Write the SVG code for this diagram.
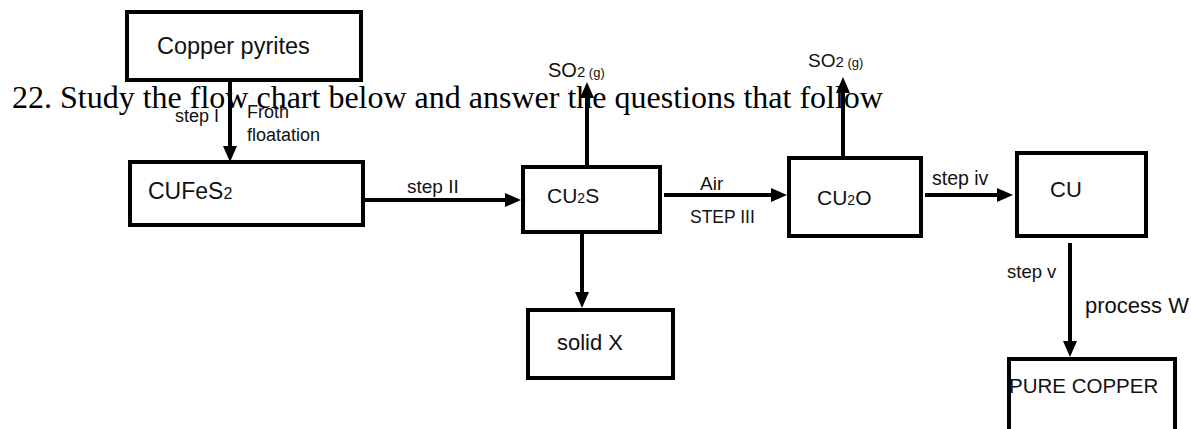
<svg xmlns="http://www.w3.org/2000/svg" width="1191" height="429" viewBox="0 0 1191 429">
<style>
.box{fill:#fff;stroke:#000;stroke-width:4}
.lbl{font-family:"Liberation Sans",Arial,sans-serif;fill:#111}
.con line{stroke:#000;stroke-width:4}
.title{font-family:"Liberation Serif","Times New Roman",serif;font-size:32px;fill:#000}
</style>
<defs>
<marker id="ah" markerUnits="userSpaceOnUse" markerWidth="16" markerHeight="14" refX="6" refY="7" orient="auto">
<path d="M0,0 L16,7 L0,14 z" fill="#000"/>
</marker>
</defs>
<rect width="1191" height="429" fill="#fff"/>

<g id="copper-pyrites">
<rect class="box" x="127" y="12" width="234" height="68"/>
<text class="lbl" x="157" y="54" font-size="23.5">Copper pyrites</text>
</g>
<g id="cufes2">
<rect class="box" x="130" y="162" width="233" height="63"/>
<text class="lbl" x="148" y="199" font-size="23">CUFeS<tspan font-size="16">2</tspan></text>
</g>
<g id="cu2s">
<rect class="box" x="523" y="167" width="137" height="65"/>
<text class="lbl" x="547" y="203" font-size="21">CU<tspan font-size="14">2</tspan>S</text>
</g>
<g id="solid-x">
<rect class="box" x="528" y="310" width="145" height="68"/>
<text class="lbl" x="557" y="350" font-size="22">solid X</text>
</g>
<g id="cu2o">
<rect class="box" x="789" y="158" width="132" height="78"/>
<text class="lbl" x="817" y="205" font-size="21">CU<tspan font-size="14">2</tspan>O</text>
</g>
<g id="cu">
<rect class="box" x="1017" y="153" width="129" height="83"/>
<text class="lbl" x="1050" y="197" font-size="22">CU</text>
</g>
<g id="pure-copper">
<rect class="box" x="1009" y="359" width="166" height="100"/>
<text class="lbl" x="1009" y="393" font-size="20.5">PURE COPPER</text>
</g>
<g id="so2-1">
<text class="lbl" x="548" y="77" font-size="20">SO<tspan font-size="15">2</tspan><tspan font-size="13"> (g)</tspan></text>
</g>
<g id="so2-2">
<text class="lbl" x="808" y="67" font-size="19">SO<tspan font-size="15">2</tspan><tspan font-size="13"> (g)</tspan></text>
</g>

<g id="connectors" class="con">
<line x1="230" y1="82" x2="230" y2="152" marker-end="url(#ah)"/>
<line x1="365" y1="200" x2="511" y2="200" marker-end="url(#ah)"/>
<line x1="587" y1="165" x2="587" y2="92" marker-end="url(#ah)"/>
<line x1="582" y1="234" x2="582" y2="298" marker-end="url(#ah)"/>
<line x1="664" y1="195" x2="777" y2="195" marker-end="url(#ah)"/>
<line x1="843" y1="156" x2="843" y2="87" marker-end="url(#ah)"/>
<line x1="925" y1="195" x2="1003" y2="195" marker-end="url(#ah)"/>
<line x1="1070" y1="243" x2="1070" y2="347" marker-end="url(#ah)"/>
</g>

<g id="connector-labels">
<text class="lbl" x="175" y="122" font-size="18">step I</text>
<text class="lbl" x="247" y="118" font-size="18" fill="#555">Froth</text>
<text class="lbl" x="247" y="141" font-size="18">floatation</text>
<text class="lbl" x="407" y="193" font-size="19">step II</text>
<text class="lbl" x="700" y="190" font-size="19">Air</text>
<text class="lbl" x="690" y="223" font-size="17.5">STEP III</text>
<text class="lbl" x="932" y="185" font-size="19.5">step iv</text>
<text class="lbl" x="1007" y="278" font-size="18.5">step v</text>
<text class="lbl" x="1085" y="313" font-size="22">process W</text>
</g>

<text class="title" x="12" y="108">22. Study the flow chart below and answer the questions that follow</text>
</svg>
